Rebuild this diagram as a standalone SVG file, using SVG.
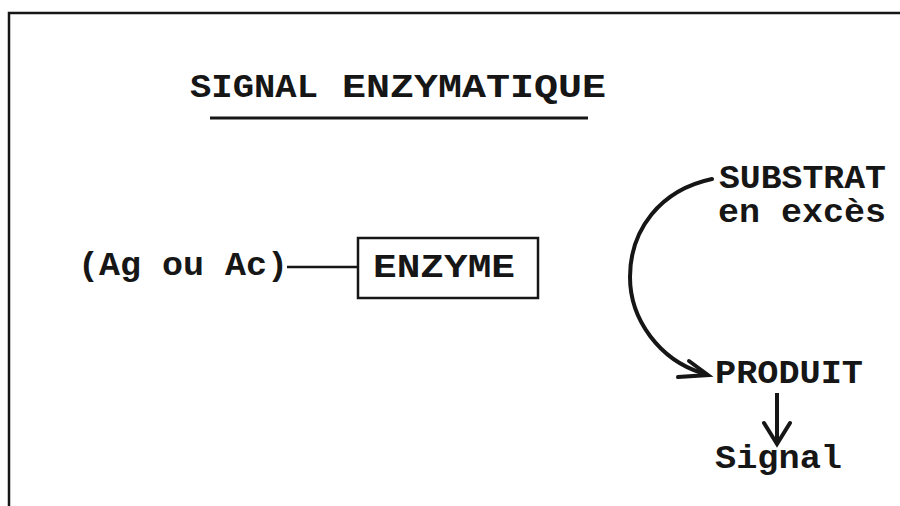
<svg xmlns="http://www.w3.org/2000/svg" width="900" height="506" viewBox="0 0 900 506">
<defs>
<style>
.t{font-family:"Liberation Mono","DejaVu Sans Mono",monospace;font-weight:bold;fill:#161616;font-size:33px;}
.ln{stroke:#161616;fill:none;}
</style>
</defs>
<rect width="900" height="506" fill="#fff"/>
<path class="ln" d="M9,506 V13 H900" stroke-width="2.5"/>
<g id="title">
<text class="t" x="190" y="97" textLength="128" lengthAdjust="spacingAndGlyphs">SIGNAL</text>
<text class="t" x="342" y="97" textLength="264" lengthAdjust="spacingAndGlyphs">ENZYMATIQUE</text>
<line class="ln" x1="210" y1="118" x2="588" y2="118" stroke-width="3"/>
</g>
<g id="ag">
<text class="t" x="78" y="275" textLength="210" lengthAdjust="spacingAndGlyphs">(Ag ou Ac)</text>
</g>
<g id="enzyme">
<rect class="ln" x="358" y="238" width="180" height="60" stroke-width="2.5"/>
<text class="t" x="373" y="277" textLength="142" lengthAdjust="spacingAndGlyphs">ENZYME</text>
</g>
<g id="substrat">
<text class="t" x="719" y="188" textLength="167" lengthAdjust="spacingAndGlyphs">SUBSTRAT</text>
<text class="t" x="718" y="222" textLength="168" lengthAdjust="spacingAndGlyphs">en excès</text>
</g>
<g id="produit">
<text class="t" x="715" y="383" textLength="148" lengthAdjust="spacingAndGlyphs">PRODUIT</text>
</g>
<g id="signal">
<text class="t" x="715" y="468" textLength="127" lengthAdjust="spacingAndGlyphs">Signal</text>
</g>
<g id="connectors">
<line class="ln" x1="287" y1="267" x2="358" y2="267" stroke-width="2.5"/>
<path class="ln" d="M712,179 C660,190 630,230 630,277 C630,320 660,360 702,373" stroke-width="4" stroke-linecap="round"/>
<path class="ln" d="M689,361 L708,375 L678,377" stroke-width="4" stroke-linejoin="miter" stroke-linecap="round"/>
<line class="ln" x1="777" y1="393" x2="777" y2="440" stroke-width="4"/>
<path class="ln" d="M764,423 L777,444 L790,423" stroke-width="4" stroke-linecap="round"/>
</g>
</svg>
